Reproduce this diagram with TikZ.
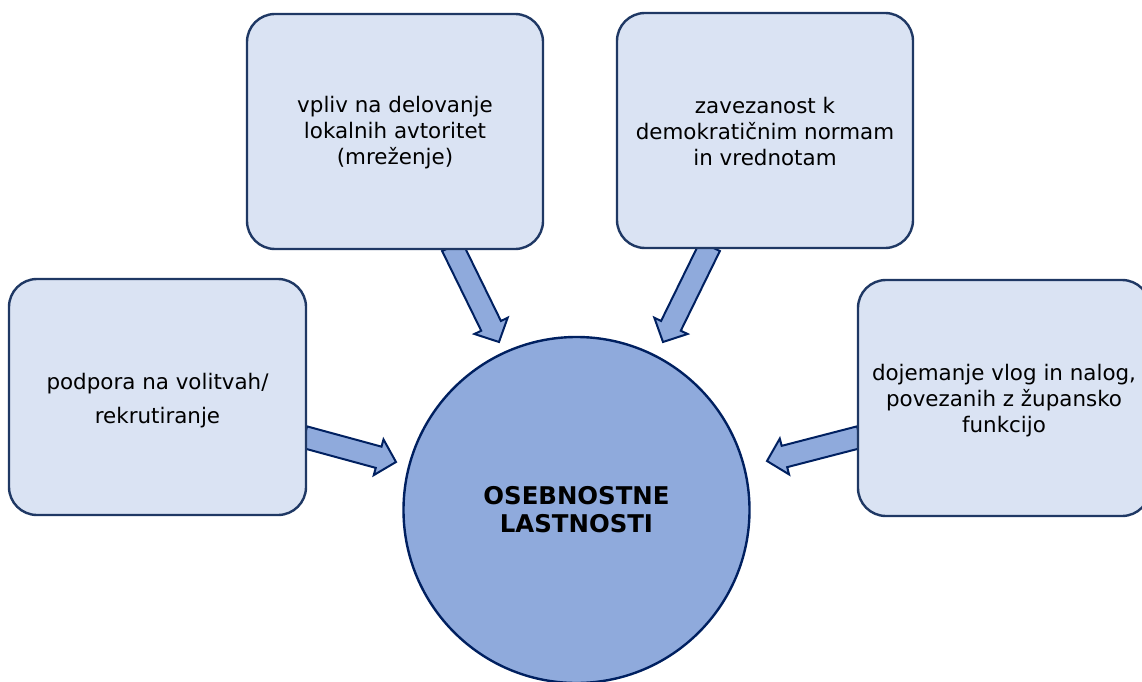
\documentclass[tikz,border=0pt]{standalone}
\usepackage{fontspec}
\setmainfont{DejaVu Sans}
\usetikzlibrary{calc,backgrounds}

\definecolor{boxfill}{HTML}{DAE3F3}
\definecolor{boxline}{HTML}{1F3864}
\definecolor{corefill}{HTML}{8FAADC}
\definecolor{coreline}{HTML}{002060}

% block arrow from #1 (tail) to #2 (tip)
\newcommand\blockarrow[2]{%
  \path ($(#2)!18bp!(#1)$) coordinate (hb);
  \draw[arrowbody]
    ($(#1)!11bp!90:(#2)$) -- ($(hb)!11bp!-90:(#1)$) --
    ($(hb)!18.5bp!-90:(#1)$) -- (#2) --
    ($(hb)!18.5bp!90:(#1)$) -- ($(hb)!11bp!90:(#1)$) --
    ($(#1)!11bp!-90:(#2)$) -- cycle;
}

\begin{document}
\begin{tikzpicture}[x=1bp,y=-1bp,
  infobox/.style={draw=boxline, line width=2.4bp, fill=boxfill,
    rounded corners=28bp, align=center, inner sep=0pt,
    font=\fontsize{21.5}{26}\selectfont},
  core/.style={circle, draw=coreline, line width=2.4bp, fill=corefill,
    minimum size=346bp, inner sep=0pt, align=center,
    font=\fontsize{24.5}{28}\selectfont\bfseries},
  arrowbody/.style={draw=coreline, line width=2bp, fill=corefill,
    line join=miter}]
\useasboundingbox (0,0) rectangle (1142,682);

% surrounding boxes
\node[infobox, minimum width=297bp, minimum height=236bp] (l) at (157.5,397)
  {\rule{0pt}{24bp}podpora na volitvah/\\[8bp]rekrutiranje};
\node[infobox, minimum width=296bp, minimum height=235bp] (tl) at (395,131.5)
  {\rule{0pt}{18bp}vpliv na delovanje\\lokalnih avtoritet\\(mreženje)};
\node[infobox, minimum width=296bp, minimum height=235bp] (tr) at (765,130.5)
  {\rule{0pt}{18bp}zavezanost k\\demokratičnim normam\\in vrednotam};
\node[infobox, minimum width=292bp, minimum height=236bp] (r) at (1004,398)
  {\rule{0pt}{22bp}dojemanje vlog in nalog,\\povezanih z župansko\\funkcijo};

% central circle
\node[core] (c) at (576.5,510) {OSEBNOSTNE\\LASTNOSTI};

% arrow tails at box edges, tips near the circle
\coordinate (s1) at ($(tl.south)+(57,-4)$);
\coordinate (e1) at ($(c.center)+(-77.5,-168)$);
\coordinate (s2) at ($(tr.south)+(-55,-3)$);
\coordinate (e2) at ($(c.center)+(86.5,-168)$);
\coordinate (s3) at ($(l.east)+(-3,40)$);
\coordinate (e3) at ($(c.center)+(-180.5,-48)$);
\coordinate (s4) at ($(r.west)+(3,39)$);
\coordinate (e4) at ($(c.center)+(190.5,-49)$);

\begin{scope}[on background layer]
  \blockarrow{s1}{e1}
  \blockarrow{s2}{e2}
  \blockarrow{s3}{e3}
  \blockarrow{s4}{e4}
\end{scope}
\end{tikzpicture}
\end{document}
